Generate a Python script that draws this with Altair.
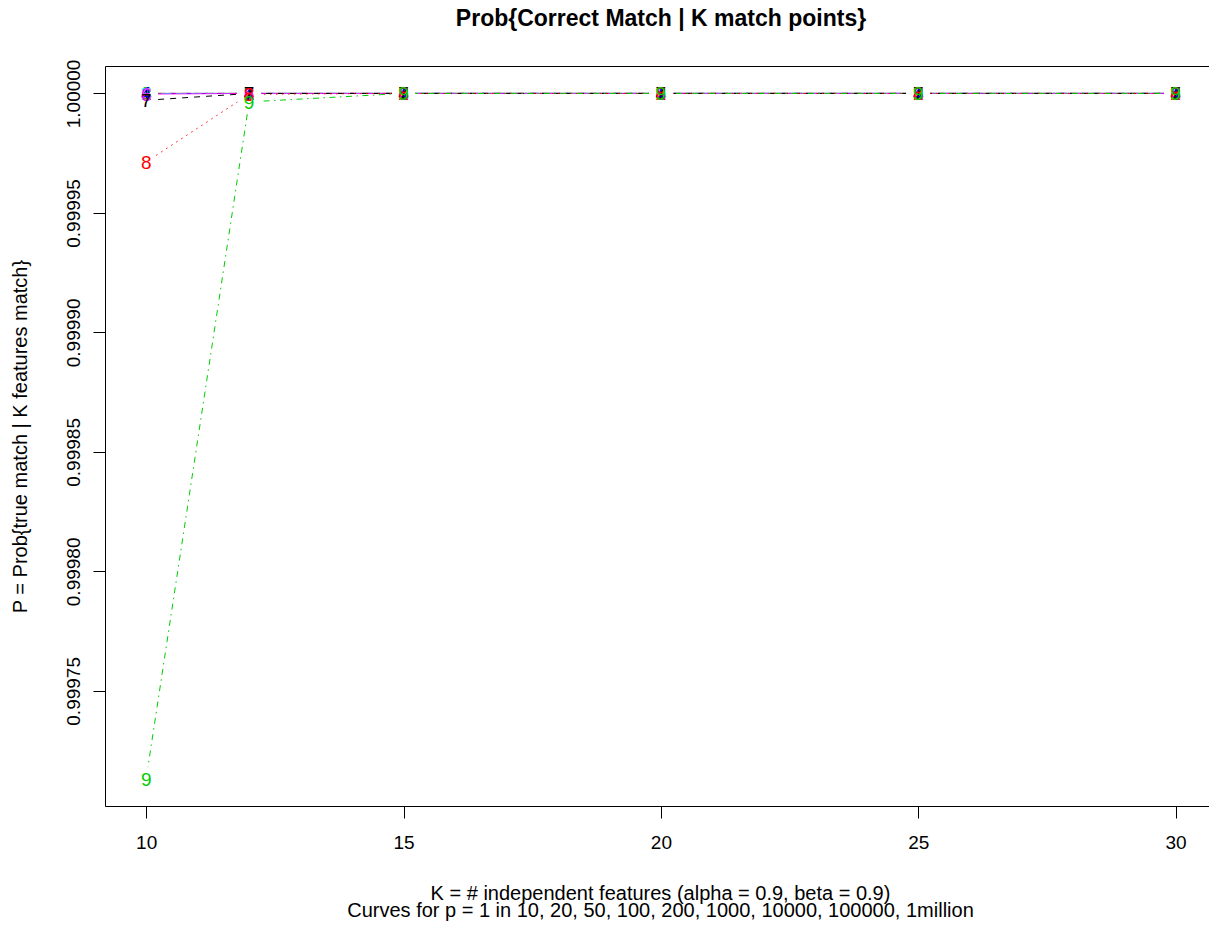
import altair as alt
import pandas as pd

# K = number of independent matching features
K_VALUES = [10, 12, 15, 20, 25, 30]

# Curve labels (one per prior p = 1 in N)
CURVES = ["1", "2", "3", "4", "5", "6", "7", "8", "9"]

# Posterior probability of a true match for each curve, at each K
P_CURVE_1 = [0.9999999974, 0.99999999997, 1.0, 1.0, 1.0, 1.0]
P_CURVE_2 = [0.9999999945, 0.99999999993, 1.0, 1.0, 1.0, 1.0]
P_CURVE_3 = [0.9999999859, 0.9999999998, 1.0, 1.0, 1.0, 1.0]
P_CURVE_4 = [0.9999999716, 0.9999999996, 1.0, 1.0, 1.0, 1.0]
P_CURVE_5 = [0.9999999429, 0.9999999993, 0.99999999999, 1.0, 1.0, 1.0]
P_CURVE_6 = [0.9999997135, 0.9999999965, 0.999999999995, 1.0, 1.0, 1.0]
P_CURVE_7 = [0.9999971323, 0.9999999646, 0.99999999995, 1.0, 1.0, 1.0]
P_CURVE_8 = [0.9999713214, 0.9999996459, 0.9999999995, 1.0, 1.0, 1.0]
P_CURVE_9 = [0.9997132854, 0.9999964593, 0.9999999951, 1.0, 1.0, 1.0]

ALL_CURVES = [P_CURVE_1, P_CURVE_2, P_CURVE_3, P_CURVE_4, P_CURVE_5,
              P_CURVE_6, P_CURVE_7, P_CURVE_8, P_CURVE_9]

# classic R palette, recycled; line types 1..5 recycled
COLORS = ["#000000", "#FF0000", "#00CD00", "#0000FF", "#00FFFF",
          "#FF00FF", "#000000", "#FF0000", "#00CD00"]
SOLID = [1, 0]
DASHED = [6, 6]
DOTTED = [1.5, 4.5]
DOTDASH = [1.5, 4.5, 6, 4.5]
LONGDASH = [10.5, 4.5]
DASHES = [SOLID, DASHED, DOTTED, DOTDASH, LONGDASH,
          SOLID, DASHED, DOTTED, DOTDASH]

rows = []
for cid, values in zip(CURVES, ALL_CURVES):
    for k, p in zip(K_VALUES, values):
        rows.append({"K": k, "P": p, "curve": cid})
df = pd.DataFrame(rows)

FONT = "Liberation Sans"
W, H = 1104, 740

x_enc = alt.X(
    "K:Q",
    scale=alt.Scale(domain=[9.2, 30.649], nice=False, zero=False),
    axis=alt.Axis(
        values=[10, 15, 20, 25, 30], format="d",
        domain=False, grid=False,
        tickSize=12, tickColor="black", tickWidth=1,
        labelFontSize=19, labelFont=FONT, labelColor="black",
        labelPadding=15, labelFlush=False, labelOverlap=False,
        title=["K = # independent features (alpha = 0.9, beta = 0.9)",
               "Curves for p = 1 in 10, 20, 50, 100, 200, 1000, 10000, 100000, 1million"],
        titleFont=FONT, titleFontSize=20, titleFontWeight="normal",
        titleColor="black", titleBaseline="top", titleLineHeight=17,
        titleX=555, titleY=77,
    ),
)
y_enc = alt.Y(
    "P:Q",
    scale=alt.Scale(domain=[0.99970182, 1.00001147], nice=False, zero=False),
    axis=alt.Axis(
        values=[0.99975, 0.9998, 0.99985, 0.9999, 0.99995, 1.0], format=".5f",
        domain=False, grid=False,
        tickSize=12, tickColor="black", tickWidth=1,
        labelFontSize=19, labelFont=FONT, labelColor="black",
        labelAngle=270, labelAlign="center", labelBaseline="alphabetic",
        labelPadding=14, labelFlush=False, labelOverlap=False,
        title="P = Prob{true match | K features match}",
        titleFont=FONT, titleFontSize=20, titleFontWeight="normal",
        titleColor="black", titleAngle=270, titleBaseline="middle",
        titleX=-85,
    ),
)

color_scale = alt.Scale(domain=CURVES, range=COLORS)
dash_scale = alt.Scale(domain=CURVES, range=DASHES)

base = alt.Chart(df).encode(x=x_enc, y=y_enc)

lines = base.mark_line(strokeWidth=1).encode(
    color=alt.Color("curve:N", scale=color_scale, legend=None),
    strokeDash=alt.StrokeDash("curve:N", scale=dash_scale, legend=None),
    order=alt.Order("K:Q"),
)

# white discs open a gap in the lines around each plotted number
gaps = base.mark_circle(color="white", opacity=1, size=531)

labels = base.mark_text(font=FONT, fontSize=19, align="center",
                        baseline="middle", dy=1).encode(
    text="curve:N",
    color=alt.Color("curve:N", scale=color_scale, legend=None),
)

chart = alt.layer(lines, gaps, labels).properties(
    width=W,
    height=H,
    title=alt.TitleParams(
        "Prob{Correct Match | K match points}",
        font=FONT, fontSize=23, fontWeight="bold", color="black",
        anchor="middle", frame="group", baseline="alphabetic",
        offset=10, dx=4,
    ),
).configure(
    autosize=alt.AutoSizeParams(type="none"),
    padding={"left": 105, "top": 66, "right": 0, "bottom": 930 - 66 - H},
    background="white",
).configure_view(
    stroke="black", strokeWidth=1,
)

chart.save("out.html", embed_options={"renderer": "svg", "actions": False})
